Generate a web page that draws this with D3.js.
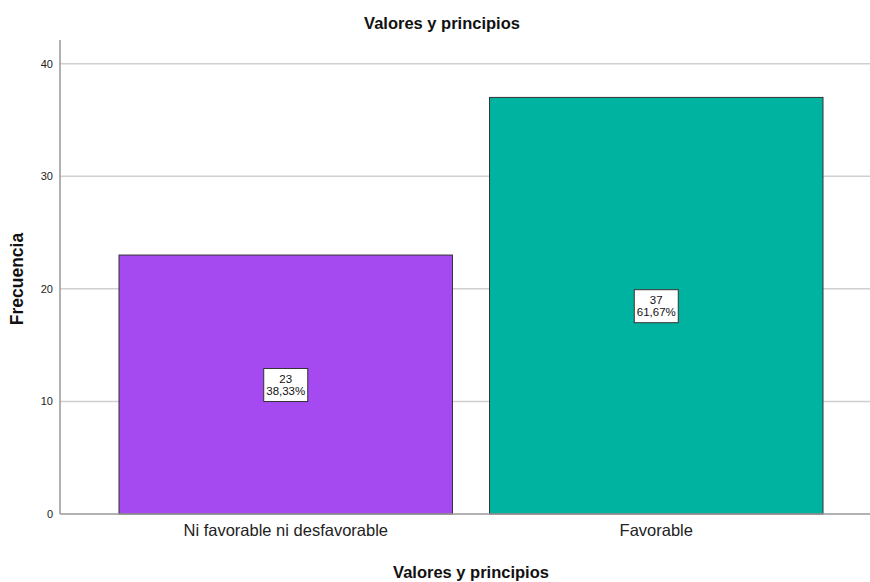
<!DOCTYPE html>
<html>
<head>
<meta charset="utf-8">
<script src="https://cdn.jsdelivr.net/npm/d3@7"></script>
<style>
  body { margin: 0; background: #fff; }
  svg { display: block; }
</style>
</head>
<body>
<svg id="vis" width="870" height="582"></svg>
<script>
const categories = ['Ni favorable ni desfavorable', 'Favorable'];
const counts = [23, 37];
const percents = ['38,33%', '61,67%'];
const colors = ['#a54af0', '#00b3a0'];
const yTicks = [0, 10, 20, 30, 40];

const margin = { top: 40, right: 0, bottom: 68, left: 60 };
const width = 870 - margin.left - margin.right;
const height = 582 - margin.top - margin.bottom;

const svg = d3.select('#vis');
const g = svg.append('g')
    .attr('transform', 'translate(' + margin.left + ', ' + margin.top + ')');

const yScale = d3.scaleLinear()
    .domain([0, 42.1])
    .range([height, 0]);

const xScale = d3.scaleBand()
    .domain(categories)
    .range([59, 763])
    .paddingInner(0.1)
    .paddingOuter(0);

// gridlines
g.selectAll('.grid')
    .data(yTicks.filter(d => d > 0))
    .enter()
    .append('line')
    .attr('x1', 0)
    .attr('x2', width)
    .attr('y1', d => yScale(d))
    .attr('y2', d => yScale(d))
    .attr('stroke', '#cfcfcf')
    .attr('stroke-width', 1.5);

// y axis
const yAxis = g.append('g')
    .attr('class', 'y-axis')
    .call(d3.axisLeft(yScale).tickValues(yTicks).tickSize(0).tickPadding(7));
yAxis.select('.domain').remove();
yAxis.selectAll('text')
    .attr('font-family', 'Liberation Sans, Arial, sans-serif')
    .attr('font-size', '11px')
    .attr('fill', '#222');

g.append('line')
    .attr('x1', 0).attr('x2', 0)
    .attr('y1', 0).attr('y2', height)
    .attr('stroke', '#999')
    .attr('stroke-width', 1.5);

// bars
g.selectAll('rect.bar')
    .data(counts)
    .enter()
    .append('rect')
    .attr('class', 'bar')
    .attr('x', (d, i) => xScale(categories[i]))
    .attr('y', d => yScale(d))
    .attr('width', xScale.bandwidth())
    .attr('height', d => height - yScale(d))
    .attr('fill', (d, i) => colors[i])
    .attr('stroke', '#333')
    .attr('stroke-width', 1);

// x axis baseline
g.append('line')
    .attr('x1', 0).attr('x2', width)
    .attr('y1', height).attr('y2', height)
    .attr('stroke', '#999')
    .attr('stroke-width', 1.5);

// x labels
const xAxis = g.append('g')
    .attr('class', 'x-axis')
    .attr('transform', 'translate(0, ' + height + ')')
    .call(d3.axisBottom(xScale).tickSize(0).tickPadding(10));
xAxis.select('.domain').remove();
xAxis.selectAll('text')
    .attr('font-family', 'Liberation Sans, Arial, sans-serif')
    .attr('font-size', '16.5px')
    .attr('fill', '#222');

// value boxes
const labels = g.selectAll('.lab')
    .data(counts)
    .enter()
    .append('g')
    .attr('transform', (d, i) => 'translate(' + (xScale(categories[i]) + xScale.bandwidth() / 2) + ', ' + yScale(d / 2) + ')');

labels.append('rect')
    .attr('x', -22)
    .attr('y', -16)
    .attr('width', 44)
    .attr('height', 33)
    .attr('fill', '#fff')
    .attr('stroke', '#333')
    .attr('stroke-width', 1);

labels.append('text')
    .attr('y', -2)
    .attr('text-anchor', 'middle')
    .attr('font-family', 'Liberation Sans, Arial, sans-serif')
    .attr('font-size', '11.5px')
    .attr('fill', '#111')
    .text(d => d);

labels.append('text')
    .attr('y', 10)
    .attr('text-anchor', 'middle')
    .attr('font-family', 'Liberation Sans, Arial, sans-serif')
    .attr('font-size', '11.5px')
    .attr('fill', '#111')
    .text((d, i) => percents[i]);

// title
svg.append('text')
    .attr('x', 442)
    .attr('y', 29)
    .attr('text-anchor', 'middle')
    .attr('font-family', 'Liberation Sans, Arial, sans-serif')
    .attr('font-weight', 'bold')
    .attr('font-size', '16.5px')
    .attr('fill', '#111')
    .text('Valores y principios');

// axis titles
svg.append('text')
    .attr('x', 471)
    .attr('y', 578)
    .attr('text-anchor', 'middle')
    .attr('font-family', 'Liberation Sans, Arial, sans-serif')
    .attr('font-weight', 'bold')
    .attr('font-size', '16.5px')
    .attr('fill', '#111')
    .text('Valores y principios');

svg.append('text')
    .attr('transform', 'translate(23, 279) rotate(-90)')
    .attr('text-anchor', 'middle')
    .attr('font-family', 'Liberation Sans, Arial, sans-serif')
    .attr('font-weight', 'bold')
    .attr('font-size', '17.5px')
    .attr('fill', '#111')
    .text('Frecuencia');
</script>
</body>
</html>
